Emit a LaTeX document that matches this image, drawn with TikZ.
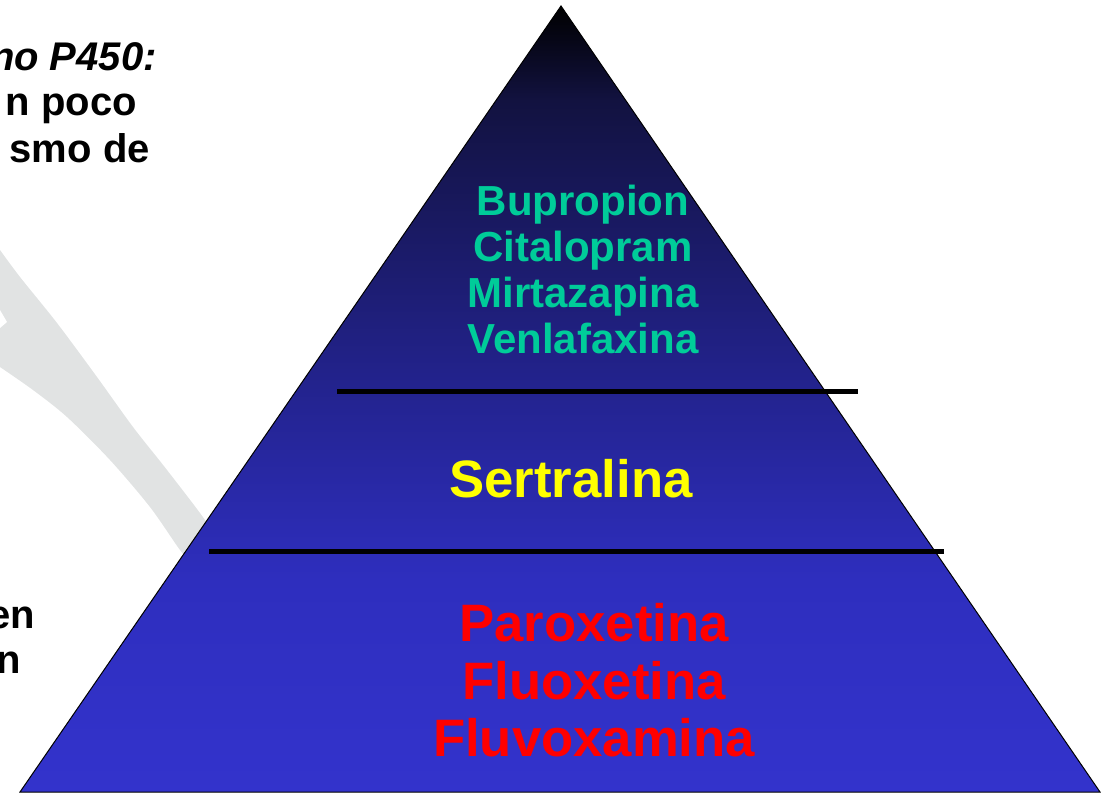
\documentclass[tikz,border=0pt]{standalone}
\usepackage{fontspec}
\setmainfont{Liberation Sans}

\definecolor{pyrtop}{RGB}{0,0,0}
\definecolor{pyrhigh}{RGB}{18,18,64}
\definecolor{pyrmid}{RGB}{34,34,138}
\definecolor{pyrlow}{RGB}{46,46,190}
\definecolor{pyrbase}{RGB}{51,51,204}
\definecolor{swooshgray}{RGB}{225,227,227}
\definecolor{drugteal}{RGB}{0,204,153}
\definecolor{drugyellow}{RGB}{255,255,0}
\definecolor{drugred}{RGB}{255,0,0}

\pgfdeclareverticalshading{pyramidshade}{100bp}{color(0bp)=(pyrbase); color(25bp)=(pyrbase); color(38.5bp)=(pyrlow); color(51.8bp)=(pyrmid); color(69bp)=(pyrhigh); color(75bp)=(pyrtop); color(100bp)=(pyrtop)}

\tikzset{
  toplbl/.style={anchor=base, inner sep=0pt, text=drugteal, font=\bfseries\fontsize{31.5}{36}\selectfont},
  midlbl/.style={anchor=base, inner sep=0pt, text=drugyellow, font=\bfseries\fontsize{39.5}{44}\selectfont},
  lowlbl/.style={anchor=base, inner sep=0pt, text=drugred, font=\bfseries\fontsize{39.5}{44}\selectfont},
  sidelbl/.style={anchor=base east, inner sep=0pt, text=black, font=\bfseries\fontsize{30}{34}\selectfont},
  divider/.style={line width=3.75pt, black},
}

\begin{document}
\begin{tikzpicture}[x=0.75pt,y=0.75pt,yscale=-1,xscale=1]
\useasboundingbox (0,0) rectangle (1105,792);
\clip (0,0) rectangle (1105,792);

%Shape: Swoosh (background watermark)
\fill [swooshgray] plot [smooth] coordinates {(0,250) (20,277) (57,323) (97,377) (133,427) (167,470) (205,520) (215,540)}
  -- plot [smooth] coordinates {(190,560) (180,550) (150,507) (110,460) (67,417) (33,390) (0,367)} -- cycle ;
\fill [white] (0,310) -- (7,322) -- (0,328) -- cycle ;

%Shape: Triangle
\coordinate (apex) at (561,6);
\coordinate (baseL) at (20,792);
\coordinate (baseR) at (1100,792);
\draw [shading=pyramidshade, line width=0.75pt] (apex) -- (baseR) -- (baseL) -- cycle ;

%Straight Lines
\draw [divider] (337,391.5) -- (858,391.5) ;
%Straight Lines
\draw [divider] (209,551) -- (944,551) ;

% Text Node
\node (bup) at (583,215) [toplbl] {Bupropion};
% Text Node
\node (cit) at (583,261) [toplbl] {Citalopram};
% Text Node
\node (mir) at (583,307) [toplbl] {Mirtazapina};
% Text Node
\node (ven) at (583,353) [toplbl] {Venlafaxina};
% Text Node
\node (ser) at (571,497) [midlbl] {Sertralina};
% Text Node
\node (par) at (594,641) [lowlbl] {Paroxetina};
% Text Node
\node (flx) at (594,699) [lowlbl] {Fluoxetina};
% Text Node
\node (flv) at (594,756) [lowlbl] {Fluvoxamina};

% Text Node
\node (sideA) at (157,70) [sidelbl] {\itshape no P450:};
% Text Node
\node (sideB) at (137,115) [sidelbl] {n poco};
% Text Node
\node (sideC) at (150,162) [sidelbl] {smo de};
% Text Node
\node (sideD) at (35,628) [sidelbl] {en};
% Text Node
\node (sideE) at (21,673) [sidelbl] {n};

\end{tikzpicture}
\end{document}
